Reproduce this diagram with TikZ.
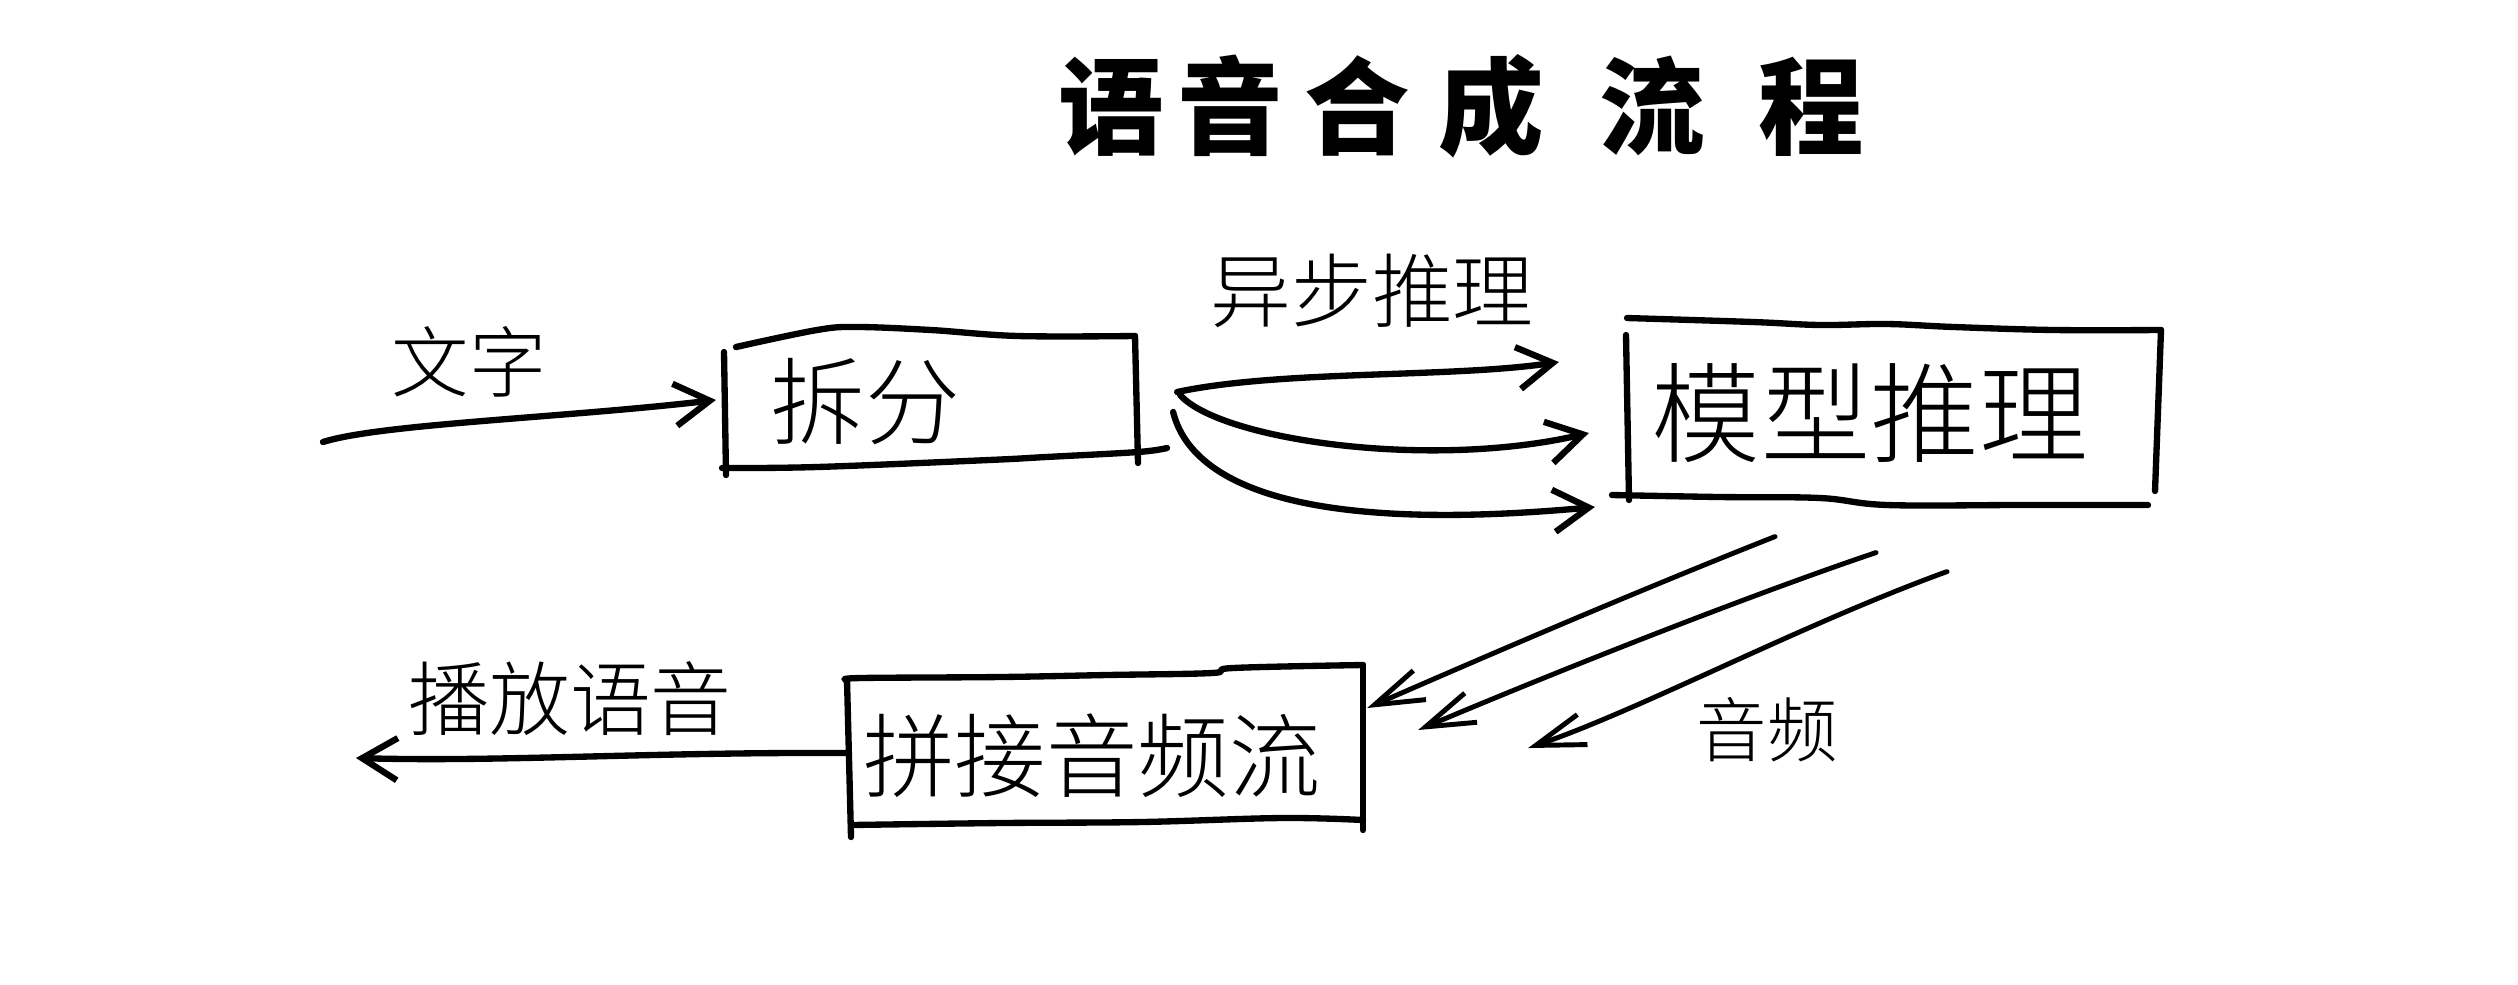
\documentclass[tikz,border=0pt]{standalone}
\usepackage{fontspec}
\IfFontExistsTF{Noto Sans CJK SC Light}
  {\newfontfamily\handfont{Noto Sans CJK SC Light}}
  {\newfontfamily\handfont{Noto Sans CJK SC}}
\newfontfamily\titlefont{Noto Sans CJK SC}
\usetikzlibrary{arrows.meta,calc}

\tikzset{
  pen/.style={line width=1.8pt, line cap=round, line join=round},
  flow/.style={pen, -{Straight Barb[length=10pt,width=12pt]}},
  stream/.style={line width=1.4pt, line cap=round, line join=round,
    -{Straight Barb[length=14pt,width=9pt]}},
  boxnode/.style={draw=none, inner sep=0pt, outer sep=0pt},
  lbl/.style={inner sep=0pt, font=\handfont},
}

\begin{document}
\begin{tikzpicture}[x=0.01cm, y=-0.01cm]
\useasboundingbox (0,0) rectangle (2518,984);

% title
\node[inner sep=0pt, font=\titlefont\bfseries\fontsize{30pt}{34pt}\selectfont] (title) at (1461,106)
  {语\hspace{4pt}音\hspace{6pt}合\hspace{8pt}成\hspace{16pt}流\hspace{15pt}程};

% the three process boxes (outlines drawn by hand below)
\node[boxnode, minimum width=4.14cm, minimum height=1.34cm] (chaifen) at (932,402) {};
\node[boxnode, minimum width=5.34cm, minimum height=1.83cm] (moxing) at (1894,413) {};
\node[boxnode, minimum width=5.16cm, minimum height=1.60cm] (pinjie) at (1105,747) {};

\begin{scope}[shift={(chaifen.center)}]
  \draw[pen] plot[smooth, tension=0.6] coordinates {(-196,-55) (-115,-72) (-75,-75) (-1,-72) (86,-66) (203,-66)};
  \draw[pen] (-208,-50) -- (-206,73);
  \draw[pen] plot[smooth, tension=0.6] coordinates {(-210,66) (-115,65) (57,58) (114,55) (206,50) (235,46)};
  \draw[pen] (203,-66) -- (206,61);
\end{scope}

\begin{scope}[shift={(moxing.center)}]
  \draw[pen] plot[smooth, tension=0.6] coordinates {(-267,-95) (-141,-91) (-74,-88) (-7,-89) (60,-86) (160,-83) (267,-83)};
  \draw[pen] (-268,-78) -- (-265,87);
  \draw[pen] plot[smooth, tension=0.6] coordinates {(-282,82) (-175,84) (-74,85) (-7,92) (127,92) (254,92)};
  \draw[pen] (267,-83) -- (261,78);
\end{scope}

\begin{scope}[shift={(pinjie.center)}]
  \draw[pen] plot[smooth, tension=0.6] coordinates {(-258,-67) (-244,-69) (-104,-70) (2,-72) (107,-74) (128,-79) (258,-82)};
  \draw[pen] (-258,-67) -- (-254,90);
  \draw[pen] plot[smooth, tension=0.6] coordinates {(-254,78) (-103,76) (37,75) (177,71) (258,73)};
  \draw[pen] (258,-82) -- (258,83);
\end{scope}

% box captions
\node[lbl, font=\handfont\fontsize{27pt}{30pt}\selectfont] (tchaifen) at (865,402) {拆分};
\node[lbl, font=\handfont\fontsize{31pt}{34pt}\selectfont] (tmoxing) at (1870,413) {模型推理};
\node[lbl, font=\handfont\fontsize{26pt}{30pt}\selectfont] (tpinjie) at (1092,756) {拼接音频流};

% edge labels
\node[lbl, font=\handfont\fontsize{22pt}{26pt}\selectfont] (lwenzi) at (469,362) {文字};
\node[lbl, font=\handfont\fontsize{23pt}{26pt}\selectfont] (lyibu) at (1372,291) {异步推理};
\node[lbl, font=\handfont\fontsize{23pt}{26pt}\selectfont] (lbofang) at (570,699) {播放语音};
\node[lbl, font=\handfont\fontsize{20pt}{24pt}\selectfont] (lyinpin) at (1767,730) {音频};

% text in
\coordinate (src) at (323,442);
\draw[flow] (src) .. controls (380,424) and (560,418) .. ($(chaifen.west)+(-9,-2)$);

% asynchronous requests to the model
\draw[flow] ($(chaifen.east)+(38,-10)$) .. controls (1280,370) and (1450,378) .. ($(moxing.west)+(-68,-51)$);
\draw[flow] ($(chaifen.east)+(41,-7)$) .. controls (1220,440) and (1430,470) .. ($(moxing.west)+(-38,20)$);
\draw[flow] ($(chaifen.east)+(34,10)$) .. controls (1190,480) and (1290,535) .. ($(moxing.west)+(-32,94)$);

% audio chunks back
\draw[stream] ($(moxing.south)+(-119,32)$) .. controls (1640,590) and (1500,650) .. ($(pinjie.east)+(4,-39)$);
\draw[stream] ($(moxing.south)+(-18,48)$) .. controls (1750,595) and (1560,670) .. ($(pinjie.east)+(55,-17)$);
\draw[stream] ($(moxing.south)+(53,67)$) .. controls (1800,625) and (1640,710) .. ($(pinjie.east)+(165,1)$);

% playback out
\coordinate (dst) at (356,758);
\draw[flow] ($(pinjie.west)+(0,6)$) .. controls (650,752) and (500,762) .. (dst);
\end{tikzpicture}
\end{document}
